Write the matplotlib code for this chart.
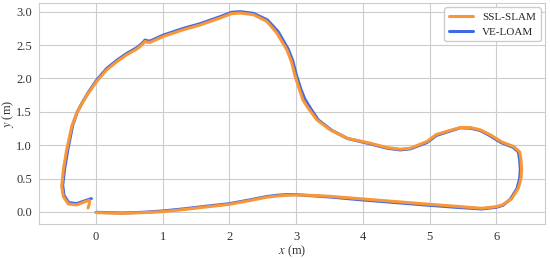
import matplotlib.pyplot as plt
import seaborn as sns

# SSL-SLAM trajectory (m)
ssl_x = [0.00, 0.20, 0.40, 0.70, 1.00, 1.30, 1.60, 2.00, 2.30, 2.55, 2.71, 2.85,
         3.00, 3.20, 3.50, 4.00, 4.50, 5.00, 5.40, 5.78, 6.00, 6.10, 6.23, 6.33,
         6.37, 6.38, 6.37, 6.35, 6.26, 6.08, 5.91, 5.76, 5.61, 5.46, 5.30, 5.10,
         4.96, 4.71, 4.56, 4.36, 4.11, 3.76, 3.51, 3.31, 3.18, 3.10, 3.05, 2.98,
         2.93, 2.86, 2.71, 2.56, 2.36, 2.16, 2.03, 1.86, 1.56, 1.31, 1.01, 0.81,
         0.76, 0.735, 0.685, 0.61, 0.46, 0.31, 0.16, 0.01, -0.115, -0.21, -0.29,
         -0.365, -0.44, -0.49, -0.515, -0.49, -0.415, -0.29, -0.165, -0.10, -0.10,
         -0.12]
ssl_y = [-0.01, -0.015, -0.02, -0.01, 0.005, 0.035, 0.07, 0.115, 0.17, 0.22, 0.24, 0.25,
         0.255, 0.25, 0.235, 0.195, 0.155, 0.115, 0.085, 0.055, 0.08, 0.11, 0.20, 0.355,
         0.50, 0.63, 0.78, 0.90, 0.98, 1.05, 1.155, 1.23, 1.265, 1.265, 1.22, 1.16,
         1.055, 0.955, 0.94, 0.965, 1.03, 1.105, 1.23, 1.38, 1.555, 1.68, 1.83, 2.05,
         2.25, 2.43, 2.68, 2.855, 2.955, 2.98, 2.97, 2.905, 2.80, 2.73, 2.63, 2.54,
         2.545, 2.555, 2.50, 2.44, 2.355, 2.25, 2.13, 1.955, 1.78, 1.63, 1.48,
         1.28, 0.93, 0.63, 0.38, 0.23, 0.12, 0.105, 0.155, 0.175, 0.12,
         0.06]

# VE-LOAM trajectory (m)
ve_x = [0.00, 0.20, 0.40, 0.70, 1.00, 1.30, 1.60, 2.00, 2.30, 2.55, 2.71, 2.85,
        3.00, 3.20, 3.50, 4.00, 4.50, 5.00, 5.40, 5.78, 6.00, 6.10, 6.21, 6.31,
        6.35, 6.36, 6.35, 6.33, 6.25, 6.07, 5.90, 5.76, 5.61, 5.46, 5.30, 5.10,
        4.96, 4.71, 4.56, 4.36, 4.11, 3.77, 3.53, 3.33, 3.21, 3.13, 3.07, 3.00,
        2.95, 2.88, 2.73, 2.57, 2.36, 2.16, 2.03, 1.86, 1.56, 1.31, 1.01, 0.81,
        0.76, 0.735, 0.685, 0.61, 0.46, 0.31, 0.16, 0.01, -0.11, -0.20, -0.28,
        -0.35, -0.42, -0.47, -0.50, -0.48, -0.41, -0.29, -0.16, -0.07]
ve_y = [-0.005, -0.01, -0.015, -0.005, 0.015, 0.045, 0.08, 0.125, 0.18, 0.23, 0.25, 0.26,
        0.26, 0.245, 0.225, 0.18, 0.14, 0.10, 0.07, 0.045, 0.07, 0.10, 0.19, 0.35,
        0.50, 0.63, 0.78, 0.90, 0.97, 1.04, 1.145, 1.22, 1.255, 1.26, 1.21, 1.145,
        1.04, 0.945, 0.93, 0.955, 1.02, 1.10, 1.225, 1.38, 1.56, 1.69, 1.84, 2.06,
        2.26, 2.44, 2.70, 2.875, 2.975, 3.0, 2.99, 2.925, 2.82, 2.75, 2.65, 2.56,
        2.565, 2.575, 2.52, 2.46, 2.375, 2.27, 2.15, 1.975, 1.80, 1.65, 1.50,
        1.30, 0.95, 0.65, 0.40, 0.25, 0.14, 0.125, 0.17, 0.20]

sns.set_style("whitegrid")
plt.rcParams['font.family'] = ['Liberation Serif', 'DejaVu Serif']
plt.rcParams['mathtext.fontset'] = 'stix'

fig = plt.figure(figsize=(5.5, 2.58), dpi=100)
ax = fig.add_axes([39/550, 34/258, 506/550, 221/258])
ax.plot(ssl_x, ssl_y, color="#f7973a", lw=2.2, label="SSL-SLAM", zorder=3)
ax.plot(ve_x, ve_y, color="#4169e1", lw=2.2, label="VE-LOAM", zorder=2)
ax.set_xlim(-0.855, 6.73)
ax.set_ylim(-0.18, 3.13)
ax.set_xticks([0, 1, 2, 3, 4, 5, 6])
ax.set_yticks([0.0, 0.5, 1.0, 1.5, 2.0, 2.5, 3.0])
ax.tick_params(labelsize=9, length=0, pad=5, colors="#333333")
ax.set_xlabel("$x$ (m)", fontsize=9, labelpad=0.5, color="#333333")
ax.set_ylabel("$y$ (m)", fontsize=9, labelpad=0, color="#333333")
ax.legend(loc="upper right", fontsize=8, handlelength=2.2, framealpha=1.0,
          borderaxespad=0.4)
plt.savefig("out.png")
